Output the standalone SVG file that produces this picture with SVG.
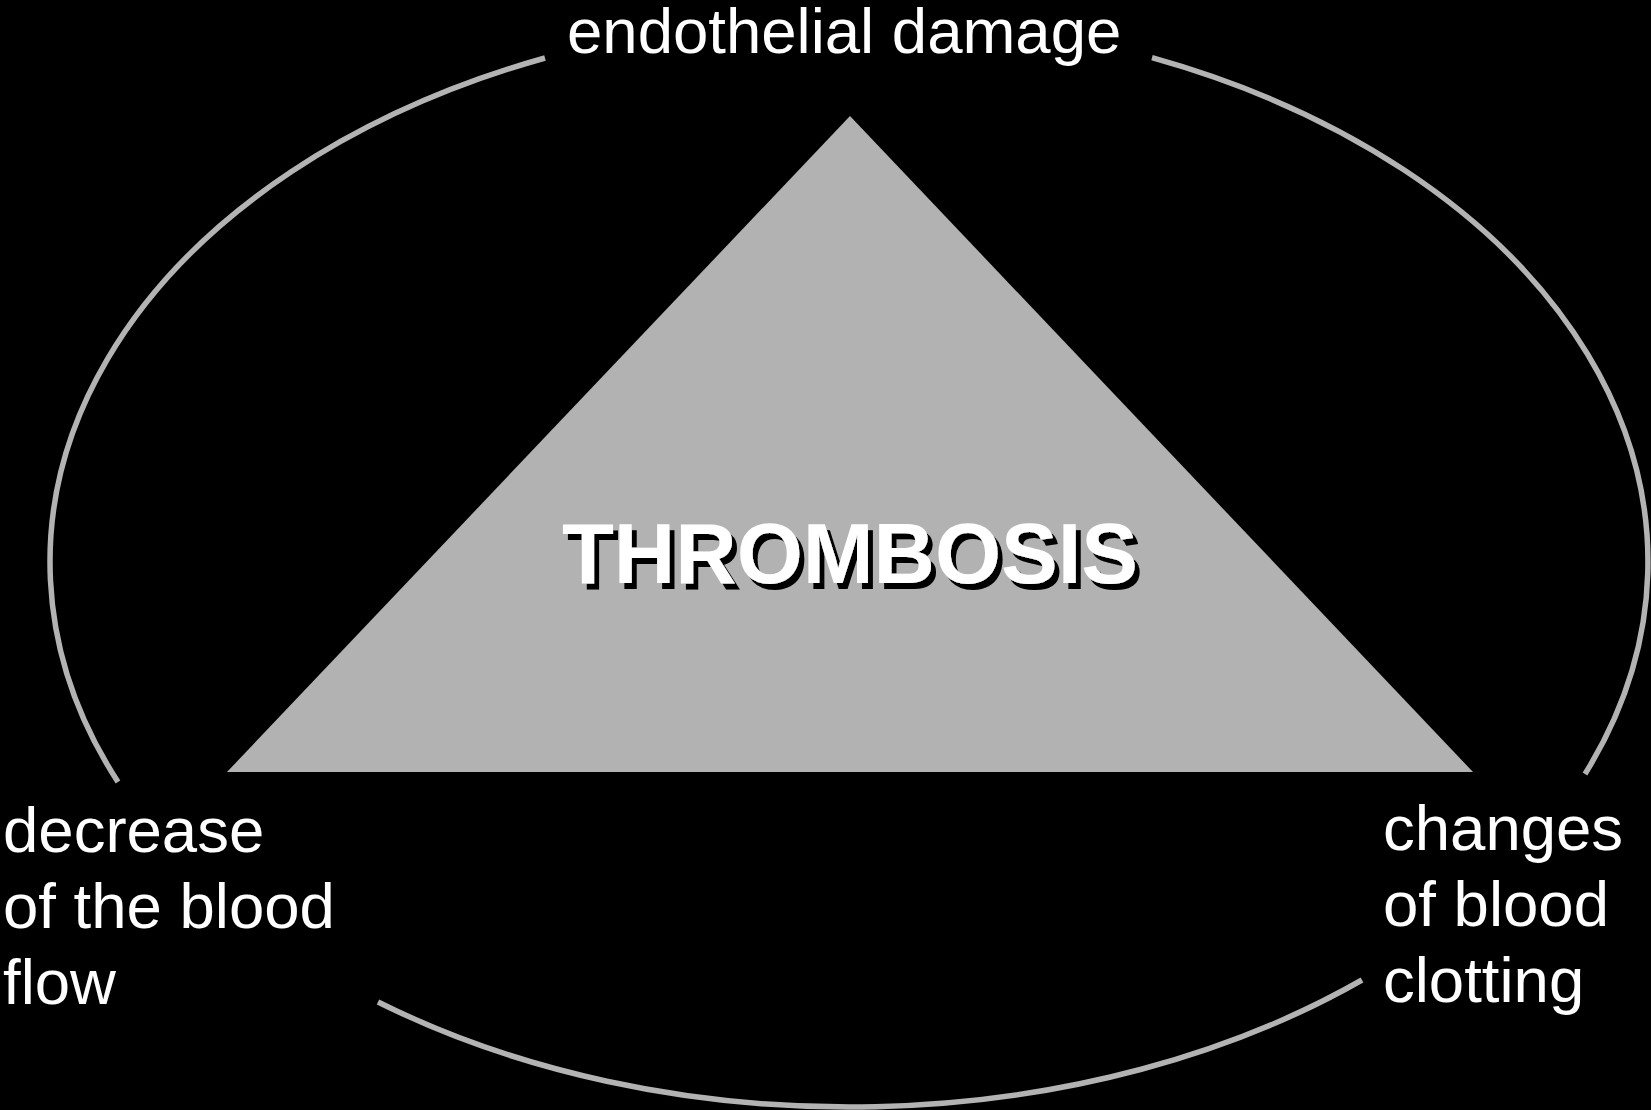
<svg xmlns="http://www.w3.org/2000/svg" width="1651" height="1110" viewBox="0 0 1651 1110">
  <defs>
    <filter id="shadow" x="-5%" y="-20%" width="115%" height="150%">
      <feOffset in="SourceAlpha" dx="5" dy="6" result="off"/>
      <feFlood flood-color="#000000"/>
      <feComposite in2="off" operator="in" result="sh"/>
      <feMerge>
        <feMergeNode in="sh"/>
        <feMergeNode in="SourceGraphic"/>
      </feMerge>
    </filter>
  </defs>
  <style>
    .arc { fill: none; stroke: #b3b3b3; stroke-width: 5.5; }
    .lbl { font-family: "Liberation Sans", Arial, sans-serif; font-size: 63.5px; fill: #ffffff; }
    .title { font-family: "Liberation Sans", Arial, sans-serif; font-size: 85px; font-weight: bold; text-anchor: middle; fill: #ffffff; }
  </style>
  <rect x="0" y="0" width="1651" height="1110" fill="#000000"/>
  <g id="connectors">
    <path class="arc" d="M118,782 A799,545 0 0 1 545,58"/>
    <path class="arc" d="M1152,57.7 A799,545 0 0 1 1585,774"/>
    <path class="arc" d="M1362,980 A799,545 0 0 1 378,1002"/>
  </g>
  <g id="triangle">
    <polygon points="850,116 227,772 1473,772" fill="#b2b2b2"/>
    <text class="title" x="850" y="583" filter="url(#shadow)">THROMBOSIS</text>
  </g>
  <g id="endothelial">
    <text class="lbl" x="567" y="53">endothelial damage</text>
  </g>
  <g id="flow">
    <text class="lbl" x="3" y="852">decrease</text>
    <text class="lbl" x="3" y="928">of the blood</text>
    <text class="lbl" x="3" y="1004">flow</text>
  </g>
  <g id="clotting">
    <text class="lbl" x="1383" y="850">changes</text>
    <text class="lbl" x="1383" y="926">of blood</text>
    <text class="lbl" x="1383" y="1002">clotting</text>
  </g>
</svg>
